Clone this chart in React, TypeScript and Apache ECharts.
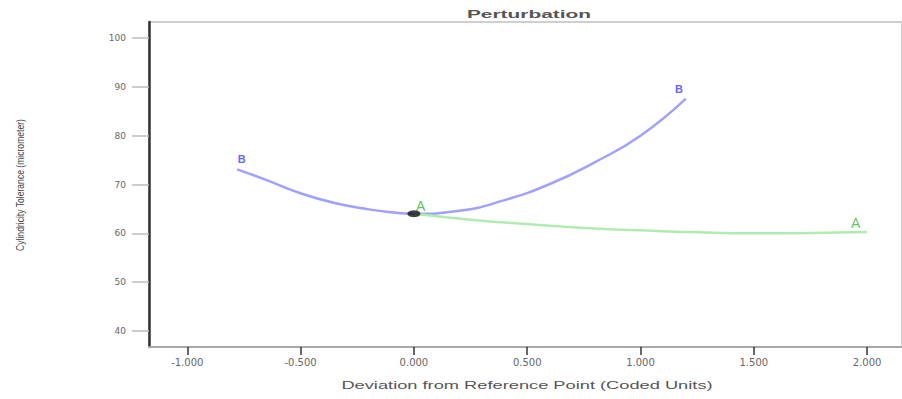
import React, { useEffect, useRef } from "react";
import * as echarts from "echarts";

const xTicks = [-1, -0.5, 0, 0.5, 1, 1.5, 2];
const yTicks = [40, 50, 60, 70, 80, 90, 100];

// Factor B curve (x, y)
const seriesB: [number, number][] = [
  [-0.78, 73.1], [-0.65, 70.9], [-0.5, 68.2], [-0.35, 66.2], [-0.2, 64.9],
  [-0.1, 64.3], [0, 64.0], [0.2, 64.6], [0.4, 66.8], [0.6, 70.1],
  [0.8, 74.6], [1.0, 80.0], [1.2, 87.6],
];
// Factor A curve (x, y)
const seriesA: [number, number][] = [
  [0, 64.0], [0.25, 62.8], [0.5, 61.9], [0.75, 61.1], [1.0, 60.6],
  [1.25, 60.2], [1.5, 60.0], [1.75, 60.05], [2.0, 60.25],
];
const refPoint: [number, number][] = [[0, 64.0]];
const labelsB: [number, number][] = [[-0.76, 75.2], [1.17, 89.5]];
const labelsA: [number, number][] = [[0.03, 65.6], [1.95, 62.1]];

const titleText = "Perturbation";
const xName = "Deviation from Reference Point (Coded Units)";
const yName = "Cylindricity Tolerance (micrometer)";

export default function App() {
  const ref = useRef<HTMLDivElement>(null);
  useEffect(() => {
    if (!ref.current) return;
    const chart = echarts.init(ref.current, null, { renderer: "svg" });
    chart.setOption({
      animation: false,
      backgroundColor: "#ffffff",
      grid: {
        left: 149,
        top: 22,
        right: -6,
        bottom: 52,
        show: true,
        borderColor: "#cfcfcf",
        borderWidth: 2,
      },
      xAxis: {
        type: "value",
        min: -1.169,
        max: 2.154,
        splitLine: { show: false },
        axisLine: { show: true, onZero: false, lineStyle: { color: "#a8a8a8", width: 2 } },
        axisTick: {
          show: true,
          customValues: xTicks,
          length: 8,
          lineStyle: { color: "#333", width: 1.5 },
        },
        axisLabel: {
          customValues: xTicks,
          formatter: (v: number) => v.toFixed(3),
          margin: 10,
          fontSize: 10,
          fontFamily: "DejaVu Sans",
          color: "#666",
        },
      },
      yAxis: {
        type: "value",
        min: 36.7,
        max: 103.3,
        splitLine: { show: false },
        axisLine: { show: true, onZero: false, lineStyle: { color: "#333", width: 2.5 } },
        axisTick: {
          show: true,
          customValues: yTicks,
          length: 17,
          lineStyle: { color: "#bbb", width: 1.5 },
        },
        axisLabel: {
          customValues: yTicks,
          margin: 23,
          fontSize: 9,
          fontFamily: "DejaVu Sans",
          color: "#666",
        },
      },
      graphic: [
        {
          type: "text",
          x: 529,
          y: 14,
          scaleX: 1.9,
          style: {
            text: titleText,
            fontSize: 11,
            fontWeight: "bold",
            fontFamily: "Liberation Sans",
            fill: "#555",
            textAlign: "center",
            textVerticalAlign: "middle",
          },
        },
        {
          type: "text",
          x: 527,
          y: 385,
          scaleX: 1.66,
          style: {
            text: xName,
            fontSize: 11,
            fontFamily: "Liberation Sans",
            fill: "#555",
            textAlign: "center",
            textVerticalAlign: "middle",
          },
        },
        {
          type: "text",
          x: 20,
          y: 185,
          rotation: Math.PI / 2,
          scaleX: 0.78,
          style: {
            text: yName,
            fontSize: 11,
            fontFamily: "Liberation Sans",
            fill: "#444",
            textAlign: "center",
            textVerticalAlign: "middle",
          },
        },
      ],
      series: [
        {
          type: "line",
          data: seriesB,
          smooth: true,
          symbol: "none",
          lineStyle: { color: "#a0a0ff", width: 2.5 },
        },
        {
          type: "line",
          data: seriesA,
          smooth: true,
          symbol: "none",
          lineStyle: { color: "#b0ecb0", width: 2.5 },
        },
        {
          type: "scatter",
          data: refPoint,
          symbol: "circle",
          symbolSize: [13, 7],
          itemStyle: { color: "#111" },
          z: 5,
        },
        {
          type: "scatter",
          data: labelsB,
          symbolSize: 0,
          label: {
            show: true,
            position: "inside",
            formatter: "B",
            color: "#3a3aff",
            fontSize: 11,
            fontWeight: "bold",
            fontFamily: "Liberation Sans",
          },
        },
        {
          type: "scatter",
          data: labelsA,
          symbolSize: 0,
          label: {
            show: true,
            position: "inside",
            formatter: "A",
            color: "#2fb52f",
            fontSize: 14,
            fontFamily: "Liberation Sans",
          },
        },
      ],
    });
    return () => chart.dispose();
  }, []);
  return (
    <div
      ref={ref}
      style={{ position: "fixed", left: 0, top: 0, width: 902, height: 399, overflow: "hidden" }}
    />
  );
}
